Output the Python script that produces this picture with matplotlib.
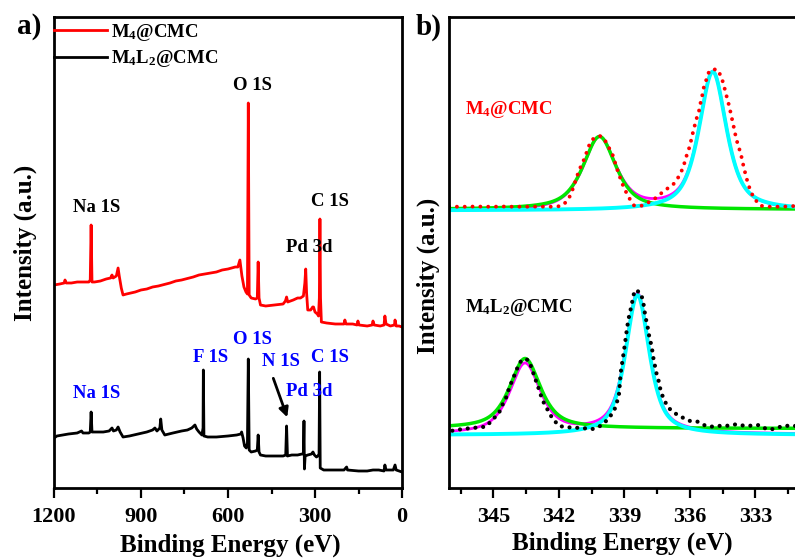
import numpy as np
import matplotlib
matplotlib.use("Agg")
import matplotlib.pyplot as plt
from matplotlib.ticker import MultipleLocator

plt.rcParams['font.family'] = ['Liberation Serif', 'DejaVu Serif']
plt.rcParams['font.weight'] = 'bold'
plt.rcParams['mathtext.fontset'] = 'custom'
plt.rcParams['mathtext.rm'] = 'Liberation Serif:bold'
plt.rcParams['mathtext.bf'] = 'Liberation Serif:bold'
plt.rcParams['mathtext.it'] = 'Liberation Serif:bold'
plt.rcParams['mathtext.default'] = 'regular'

# ---------------- survey spectra (a) ----------------
survey_be_m4 = [1200, 1180, 1165, 1162, 1158, 1140, 1120, 1100, 1080, 1075, 1072, 1069, 1060, 1040,
                1020, 1005, 1000, 996, 985, 979, 975, 968, 962, 950, 920, 900, 880, 860, 840, 800,
                780, 760, 720, 700, 680, 640, 620, 600, 575, 566, 559, 552, 545, 538, 533, 530,
                527, 520, 505, 499, 496, 493, 488, 470, 440, 410, 402, 398, 394, 375, 360, 350,
                340, 335, 332, 329, 325, 315, 308, 305, 300, 292, 288, 285, 283, 281, 278, 260,
                230, 200, 197, 193, 170, 155, 152, 148, 120, 103, 100, 96, 75, 62, 59, 55, 40,
                26, 24, 20, 10, 0]
survey_m4 = [203, 204, 205, 208, 205, 205, 206, 206, 206, 208, 263, 206, 206, 207,
             209, 210, 213, 210, 212, 220, 212, 200, 193, 194, 196, 198, 199, 201, 202, 205,
             207, 208, 211, 213, 214, 216, 218, 219, 221, 221, 228, 212, 201, 196, 194, 385,
             193, 190, 189, 190, 226, 190, 183, 182, 183, 184, 187, 191, 186, 188, 190, 190,
             192, 205, 219, 195, 178, 178, 181, 181, 176, 174, 172, 190, 269, 190, 166, 165,
             164, 164, 168, 164, 164, 163, 167, 163, 162, 163, 167, 163, 162, 163, 172, 164, 162,
             163, 168, 162, 162, 161]

survey_be_m4l2 = [1200, 1190, 1170, 1150, 1120, 1105, 1100, 1080, 1075, 1072, 1069, 1050, 1030,
                  1010, 1000, 995, 985, 979, 972, 962, 940, 910, 880, 860, 852, 845, 835, 832,
                  828, 818, 790, 760, 740, 725, 714, 708, 700, 690, 686, 685, 683, 670, 640,
                  600, 570, 556, 553, 548, 543, 537, 533, 530, 527, 520, 505, 499, 496, 493,
                  488, 470, 440, 410, 401, 398, 395, 380, 360, 345, 340, 338, 336.5, 334, 325,
                  312, 307, 302, 295, 290, 286, 284, 282, 270, 240, 200, 191, 188, 150, 120,
                  100, 80, 62, 59, 55, 30, 24, 20, 0]
survey_m4l2 = [50, 52, 53, 54, 55, 57, 55, 55, 56, 76, 56, 56, 56,
               57, 60, 57, 58, 61, 56, 51, 52, 54, 56, 58, 60, 57, 60, 69,
               58, 53, 55, 57, 58, 60, 63, 59, 56, 53, 60, 118, 52, 51, 51,
               52, 53, 54, 56, 50, 42, 40, 45, 129, 38, 36, 37, 38, 53, 36,
               33, 32, 32, 32, 33, 62, 32, 33, 33, 34, 34, 67, 19, 32, 33,
               34, 36, 33, 31, 32, 34, 116, 20, 18, 18, 18, 21, 18, 17, 17,
               18, 18, 17, 23, 18, 18, 23, 18, 16]

# peak assignments: (label, binding energy, intensity)
labels_m4 = [("O 1S", 517, 403), ("Na 1S", 1052, 281), ("C 1S", 250, 287), ("Pd 3d", 321, 240)]
labels_m4l2 = [("O 1S", 517, 149), ("F 1S", 659, 131), ("N 1S", 417, 126),
               ("C 1S", 248, 131), ("Pd 3d", 321, 97), ("Na 1S", 1052, 94)]

# ---------------- Pd 3d high resolution (b) ----------------
pd_be_m4 = [347.03, 346.6, 346.2, 345.8, 345.4, 345.0, 344.6, 344.2, 343.8, 343.4, 343.0, 342.6,
            342.14, 341.85, 341.58, 341.41, 341.07, 340.89, 340.77, 340.65, 340.49, 340.31, 340.08,
            339.85, 339.67, 339.55, 339.27, 339.04, 338.82, 338.55, 338.20, 337.68, 337.13,
            336.78, 336.53, 336.32, 336.14, 336.02, 335.93, 335.84, 335.75, 335.66, 335.56,
            335.50, 335.41, 335.35, 335.22, 335.11, 334.77, 334.57, 334.46, 334.37, 334.28,
            334.19, 334.11, 334.03, 333.96, 333.88, 333.78, 333.67, 333.52, 333.32, 333.09,
            332.78, 332.40, 332.0, 331.6, 331.18]
pd_m4 = [281.3, 281.3, 281.3, 281.5, 281.3, 281.3, 281.5, 281.3, 281.3, 281.3, 281.4, 281.3,
         281.3, 282.3, 288.0, 296.0, 318.0, 326.3, 333.0, 341.0, 348.0, 351.0, 352.0,
         346.3, 338.7, 334.0, 314.7, 301.3, 291.3, 282.3, 282.3, 288.0, 298.0,
         303.0, 310.7, 319.7, 333.0, 340.7, 348.7, 357.3, 364.7, 372.0, 378.7,
         386.3, 394.7, 402.0, 409.7, 417.3, 419.0, 412.0, 404.0, 396.3, 388.7,
         381.3, 373.0, 365.3, 358.0, 349.7, 342.0, 334.7, 319.7, 303.0, 290.7,
         282.3, 281.3, 281.3, 281.5, 282.0]

pd_be_m4l2 = [346.88, 346.49, 346.11, 345.72, 345.35, 345.12, 344.74, 344.59, 344.43, 344.28,
              344.13, 343.97, 343.82, 343.64, 343.40, 343.24, 343.12, 342.98, 342.83, 342.68,
              342.30, 341.99, 341.61, 341.23, 340.85, 340.46, 340.11, 339.78, 339.55, 339.39,
              339.24, 339.17, 339.07, 338.97, 338.89, 338.82, 338.74, 338.66, 338.61, 338.51,
              338.25, 338.16, 338.10, 338.05, 337.97, 337.90, 337.85, 337.74, 337.70, 337.62,
              337.55, 337.44, 337.36, 337.24, 337.01, 336.68, 336.32, 335.99, 335.64, 335.26,
              334.92, 334.57, 334.23, 333.88, 333.52, 333.16, 332.81, 332.48, 332.13, 331.76,
              331.41, 331.09]
pd_m4l2 = [57.3, 58.7, 59.7, 60.5, 61.3, 66.3, 75.3, 83.0, 89.7, 99.7,
           108.0, 116.3, 124.7, 129.0, 128.0, 119.7, 111.3, 103.0, 93.0, 84.7,
           69.7, 62.0, 60.7, 60.3, 59.7, 59.0, 62.0, 68.0, 74.7, 81.3,
           94.7, 115.0, 129.7, 144.7, 158.0, 168.0, 176.3, 183.0, 190.7, 198.0,
           195.3, 188.0, 181.3, 173.0, 164.7, 157.3, 149.7, 141.3, 133.0, 124.7,
           116.3, 108.0, 99.7, 91.3, 80.7, 74.7, 70.3, 67.0, 66.3, 62.0,
           61.3, 62.3, 62.3, 63.7, 62.3, 62.3, 63.0, 58.7, 59.0, 62.0,
           62.3, 62.0]

# fitted components: Pd 3d3/2 (green), Pd 3d5/2 (cyan)
fit_m4_center = [340.14, 334.95]
fit_m4_fwhm = [1.8, 1.5]
fit_m4_height = [73.0, 138.8]
fit_m4_base = [278.5, 277.5]
fit_m4_env_base = 276.5

fit_m4l2_center = [343.55, 338.40]
fit_m4l2_fwhm = [1.68, 1.30]
fit_m4l2_height = [70.0, 140.0]
fit_m4l2_base = [59.5, 53.0]
fit_m4l2_env_base = 53.5

LORENTZ_FRACTION = 0.7


def pseudo_voigt(x, center, fwhm, height, eta=LORENTZ_FRACTION):
    u = (x - center) / fwhm
    return height * (eta / (1 + 4 * u ** 2) + (1 - eta) * np.exp(-4 * np.log(2) * u ** 2))


W, H = 795, 558
fig = plt.figure(figsize=(W / 100, H / 100), dpi=100)

TEXT_FS = 13.5
TICK_FS = 16
LABEL_FS = 18
SPINE_LW = 2.0


def style_axes(ax):
    for s in ax.spines.values():
        s.set_linewidth(SPINE_LW)
    ax.set_yticks([])
    ax.tick_params(axis='x', which='major', direction='out', length=7, width=1.6,
                   labelsize=TICK_FS, pad=6.5)
    ax.tick_params(axis='x', which='minor', direction='out', length=4.5, width=1.6)
    for lab in ax.get_xticklabels():
        lab.set_fontweight('bold')


# ---- panel (a) ----
axA = fig.add_axes([54 / W, 1 - 488 / H, 348 / W, 471 / H])
l1, = axA.plot(survey_be_m4, survey_m4, color='#ff0000', lw=2.0, label='M$_4$@CMC')
l2, = axA.plot(survey_be_m4l2, survey_m4l2, color='black', lw=2.0, label='M$_4$L$_2$@CMC')
axA.set_xlim(1200, 0)
axA.set_ylim(0, 471)
axA.xaxis.set_major_locator(MultipleLocator(300))
axA.xaxis.set_minor_locator(MultipleLocator(150))
style_axes(axA)
axA.set_xlabel('Binding Energy (eV)', fontsize=LABEL_FS, fontweight='bold')
axA.set_ylabel('Intensity (a.u.)', fontsize=LABEL_FS, fontweight='bold')
axA.xaxis.label.set_va('center')
axA.yaxis.label.set_va('center')
axA.xaxis.set_label_coords(0.506, -0.121)
axA.yaxis.set_label_coords(-0.083, 0.52)

for txt, xe, yi in labels_m4:
    axA.text(xe, yi, txt, color='black', fontsize=TEXT_FS, fontweight='bold',
             ha='center', va='center')
for txt, xe, yi in labels_m4l2:
    axA.text(xe, yi, txt, color='#0000ff', fontsize=TEXT_FS, fontweight='bold',
             ha='center', va='center')
axA.annotate('', xy=(395.6, 70.7), xytext=(443.8, 109.7),
             arrowprops=dict(arrowstyle='-|>', color='black', lw=2.0, mutation_scale=14,
                             shrinkA=0, shrinkB=0))

axA.legend(handles=[l1, l2], loc='upper left', bbox_to_anchor=(0.0, 0.99), frameon=False,
           prop={'size': TEXT_FS, 'weight': 'bold'}, handlelength=2.8, handletextpad=0.25,
           borderpad=0, borderaxespad=0, labelspacing=0.3)

# ---- panel (b) ----
axB = fig.add_axes([449.3 / W, 1 - 488 / H, 349.7 / W, 471 / H])
axB.set_xlim(347.02, 331.0)
axB.set_ylim(0, 471)
xfit = np.linspace(347.02, 331.0, 600)

GREEN, CYAN, MAGENTA = '#00e600', '#00ffff', '#ff00ff'

for centers, fwhms, heights, bases, env_base in [
        (fit_m4_center, fit_m4_fwhm, fit_m4_height, fit_m4_base, fit_m4_env_base),
        (fit_m4l2_center, fit_m4l2_fwhm, fit_m4l2_height, fit_m4l2_base, fit_m4l2_env_base)]:
    comps = [pseudo_voigt(xfit, c, w, h) for c, w, h in zip(centers, fwhms, heights)]
    axB.plot(xfit, env_base + comps[0] + comps[1], color=MAGENTA, lw=2.0)
    axB.plot(xfit, bases[0] + comps[0], color=GREEN, lw=2.5)
    axB.plot(xfit, bases[1] + comps[1], color=CYAN, lw=2.8)

axB.plot(pd_be_m4, pd_m4, color='#ff0000', lw=2.8, linestyle=(0, (0.01, 2.0)),
         dash_capstyle='round')
axB.plot(pd_be_m4l2, pd_m4l2, color='black', lw=3.0, linestyle=(0, (0.01, 1.85)),
         dash_capstyle='round')

axB.text(346.3, 378, 'M$_4$@CMC', color='#ff0000', fontsize=TEXT_FS, fontweight='bold',
         ha='left', va='center')
axB.text(346.3, 181, 'M$_4$L$_2$@CMC', color='black', fontsize=TEXT_FS, fontweight='bold',
         ha='left', va='center')

axB.xaxis.set_major_locator(MultipleLocator(3))
axB.xaxis.set_minor_locator(MultipleLocator(1.5))
style_axes(axB)
axB.set_xlabel('Binding Energy (eV)', fontsize=LABEL_FS, fontweight='bold')
axB.set_ylabel('Intensity (a.u.)', fontsize=LABEL_FS, fontweight='bold')
axB.xaxis.label.set_va('center')
axB.yaxis.label.set_va('center')
axB.xaxis.set_label_coords(0.494, -0.117)
axB.yaxis.set_label_coords(-0.06, 0.45)

fig.text(17 / W, 1 - 27 / H, 'a)', fontsize=21, fontweight='bold', ha='left', va='center')
fig.text(416 / W, 1 - 27 / H, 'b)', fontsize=21, fontweight='bold', ha='left', va='center')

fig.savefig('out.png', dpi=100)
